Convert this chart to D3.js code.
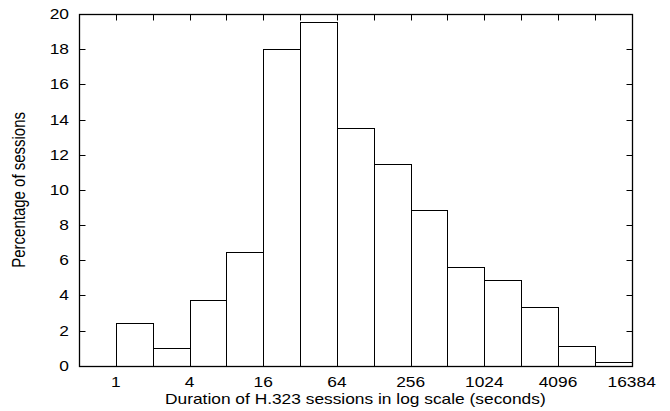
<!DOCTYPE html>
<html>
<head>
<meta charset="utf-8">
<script src="https://cdn.jsdelivr.net/npm/d3@7"></script>
<style>
  body { margin: 0; background: #fff; }
  text { font-family: "Liberation Sans", Arial, sans-serif; fill: #000; }
</style>
</head>
<body>
<svg id="chart" width="670" height="411"></svg>
<script>
// Bin start (seconds), each bin spans [start, 2*start)
const binStarts = [1, 2, 4, 8, 16, 32, 64, 128, 256, 512, 1024, 2048, 4096, 8192]
// Percentage of sessions in each bin
const percentages = [2.4, 1.0, 3.72, 6.46, 18.0, 19.53, 13.53, 11.49, 8.87, 5.6, 4.85, 3.34, 1.14, 0.2]
const xTickValues = [1, 4, 16, 64, 256, 1024, 4096, 16384]
const yTickValues = [0, 2, 4, 6, 8, 10, 12, 14, 16, 18, 20]

const svg = d3.select('#chart')
const plotLeft = 79, plotRight = 631.7, plotTop = 14, plotBottom = 365.7
// the original glyphs are wider than they are tall
const stretch = 1.24

// Scales: log base 2 on x, linear on y
const x = d3.scaleLog().base(2).domain([0.5, 16384]).range([plotLeft, plotRight])
const y = d3.scaleLinear().domain([0, 20]).range([plotBottom, plotTop])

const snap = v => Math.round(v) + 0.5

// Bars
svg.append('g')
  .selectAll('rect')
  .data(binStarts)
  .join('rect')
  .attr('x', d => snap(x(d)))
  .attr('y', (d, i) => snap(y(percentages[i])))
  .attr('width', d => snap(x(d * 2)) - snap(x(d)))
  .attr('height', (d, i) => snap(y(0)) - snap(y(percentages[i])))
  .attr('fill', '#fff')
  .attr('stroke', '#000')
  .attr('stroke-width', 1)

// Tick marks (inward, on all four sides)
const ticks = svg.append('g').attr('stroke', '#000').attr('stroke-width', 1)
const tickLen = 6
yTickValues.forEach(v => {
  ticks.append('line').attr('x1', snap(plotLeft)).attr('x2', snap(plotLeft) + tickLen)
    .attr('y1', snap(y(v))).attr('y2', snap(y(v)))
  ticks.append('line').attr('x1', snap(plotRight)).attr('x2', snap(plotRight) - tickLen)
    .attr('y1', snap(y(v))).attr('y2', snap(y(v)))
})
const allXTicks = binStarts.concat([16384])
allXTicks.forEach(v => {
  ticks.append('line').attr('x1', snap(x(v))).attr('x2', snap(x(v)))
    .attr('y1', snap(plotTop)).attr('y2', snap(plotTop) + tickLen)
  ticks.append('line').attr('x1', snap(x(v))).attr('x2', snap(x(v)))
    .attr('y1', snap(plotBottom)).attr('y2', snap(plotBottom) - tickLen)
})

// Frame
svg.append('rect')
  .attr('x', snap(plotLeft)).attr('y', snap(plotTop))
  .attr('width', snap(plotRight) - snap(plotLeft)).attr('height', snap(plotBottom) - snap(plotTop))
  .attr('fill', 'none').attr('stroke', '#000').attr('stroke-width', 1.3)

// Tick labels
svg.append('g').selectAll('text')
  .data(yTickValues)
  .join('text')
  .attr('transform', d => `translate(${plotLeft - 10}, ${y(d) + 5}) scale(${stretch}, 1)`)
  .attr('text-anchor', 'end')
  .style('font-size', '14px')
  .text(d => d)

svg.append('g').selectAll('text')
  .data(xTickValues)
  .join('text')
  .attr('transform', d => `translate(${x(d)}, 387) scale(${stretch}, 1)`)
  .attr('text-anchor', 'middle')
  .style('font-size', '14px')
  .text(d => d)

// Axis titles
svg.append('text')
  .attr('transform', `translate(${(plotLeft + plotRight) / 2}, 404) scale(${stretch}, 1)`)
  .attr('text-anchor', 'middle')
  .style('font-size', '14px')
  .text('Duration of H.323 sessions in log scale (seconds)')

svg.append('text')
  .attr('transform', `translate(25, ${(plotTop + plotBottom) / 2}) scale(${stretch}, 1) rotate(-90)`)
  .attr('text-anchor', 'middle')
  .style('font-size', '14px')
  .style('font-size', '15px')
  .text('Percentage of sessions')
</script>
</body>
</html>
